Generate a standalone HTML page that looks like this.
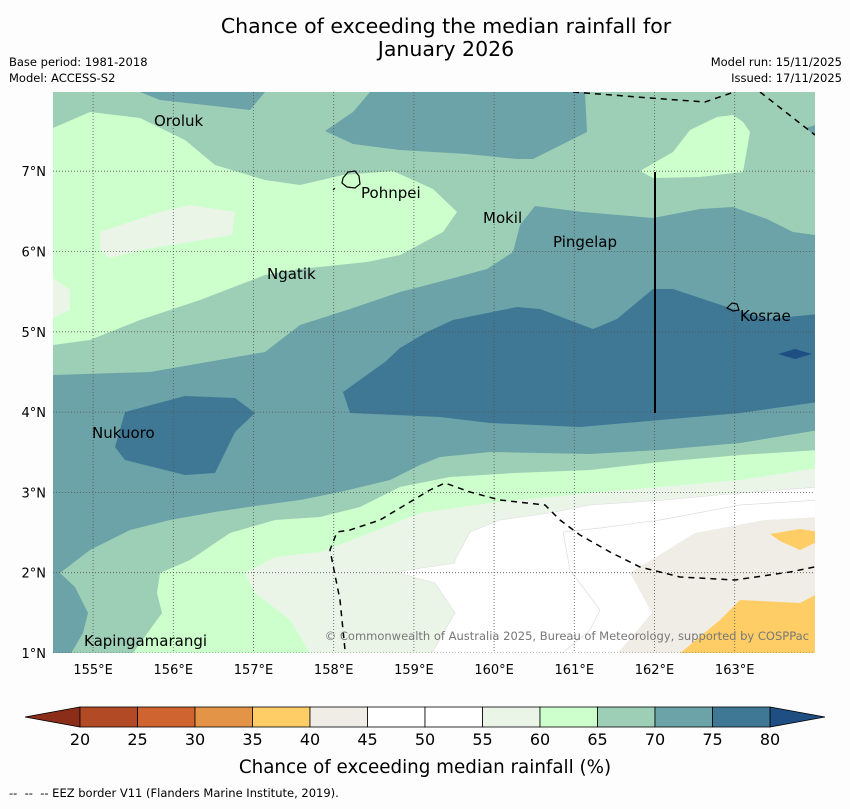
<!DOCTYPE html>
<html><head><meta charset="utf-8"><style>
body{margin:0;background:#fdfdfd;width:850px;height:804px;overflow:hidden;font-family:"Liberation Sans","DejaVu Sans",sans-serif}
</style></head><body>
<svg width="850" height="804" viewBox="0 0 850 804" style="font-family:'DejaVu Sans','Liberation Sans',sans-serif">
<rect width="850" height="804" fill="#fdfdfd"/>
<text x="446" y="33" font-size="20.5" text-anchor="middle">Chance of exceeding the median rainfall for</text>
<text x="446" y="56" font-size="20.5" text-anchor="middle">January 2026</text>
<text x="9" y="66" font-size="11.5">Base period: 1981-2018</text>
<text x="9" y="82" font-size="11.5">Model: ACCESS-S2</text>
<text x="842" y="66" font-size="11.5" text-anchor="end">Model run: 15/11/2025</text>
<text x="842" y="82" font-size="11.5" text-anchor="end">Issued: 17/11/2025</text>
<defs><clipPath id="mc"><rect x="53" y="92" width="762" height="561"/></clipPath></defs>
<g clip-path="url(#mc)">
<rect x="53" y="92" width="762" height="561" fill="#6ba3a8"/>
<polygon fill="#9dcfb6" points="53,92 815,92 815,235 793,232 767,219 733,207 700,209 653,218 583,212 535,206 520,225 513,252 487,269 450,279 400,292 350,309 300,325 265,352 150,372 53,375"/>
<polygon fill="#6ba3a8" points="370,92 353,112 325,131 353,144 400,150 467,154 517,159 533,159 587,132 585,92"/>
<polygon fill="#6ba3a8" points="140,92 265,92 250,110 160,100"/>
<polygon fill="#6ba3a8" points="806,128 815,125 815,136"/>
<polygon fill="#ccffcc" points="53,128 90,112 140,118 185,140 215,165 265,180 300,185 343,175 393,171 433,189 457,212 443,232 400,255 367,262 300,269 265,275 200,300 140,320 90,340 53,345"/>
<polygon fill="#eaf5e8" points="100,232 160,212 190,205 235,212 232,235 190,242 140,250 110,258 100,250"/>
<polygon fill="#eaf5e8" points="53,278 70,290 70,310 53,318"/>
<polygon fill="#ccffcc" points="640,171 673,152 690,130 717,117 733,115 743,122 750,132 743,172 700,177 653,178"/>
<polygon fill="#9dcfb6" points="53,580 60,573 90,550 130,530 170,520 215,512 255,506 300,500 340,492 390,480 420,465 440,457 490,452 540,453 590,454 660,450 740,443 819,430 819,660 53,660"/>
<polygon fill="#6ba3a8" points="53,575 60,573 75,587 88,613 83,633 70,655 53,655"/>
<polygon fill="#ccffcc" points="160,573 190,560 230,533 275,520 320,517 360,507 400,487 450,477 515,473 590,470 660,462 740,455 819,450 819,660 128,660 162,613 157,593"/>
<polygon fill="#eaf5e8" points="245,573 275,557 320,552 360,537 420,513 490,503 540,498 590,493 660,487 740,480 805,470 819,468 819,660 314,660 290,620 255,593"/>
<polygon fill="#ffffff" stroke="#ddd" stroke-width="0.6" points="470,532 500,520 550,513 590,505 665,500 740,493 819,487 819,660 428,660 455,613 435,583 395,572 455,563 455,560"/>
<path d="M563,532 L600,528 L660,520 L740,505 L819,500 M563,532 L570,570 L600,610 L590,630 L560,655" fill="none" stroke="#ddd" stroke-width="0.7"/>
<polygon fill="#f0ede6" points="819,517 765,520 695,533 630,573 652,613 612,660 819,660"/>
<polygon fill="#fecd65" points="672,660 720,620 740,600 800,603 819,593 819,660"/>
<polygon fill="#fecd65" points="770,534 800,529 819,532 819,541 800,550 780,541"/>
<polygon fill="#3e7895" points="125,412 185,396 235,398 255,413 235,432 215,473 185,475 125,460 115,447"/>
<polygon fill="#3e7895" points="343,392 385,362 400,348 427,332 453,320 517,307 540,309 593,329 617,319 653,289 673,289 733,309 767,319 819,314 819,402 740,413 660,420 580,427 490,423 440,417 350,413"/>
<polygon fill="#1f4f82" points="778,354 795,349 812,354 795,359"/>
<g stroke="#555" stroke-width="0.8" stroke-dasharray="1,2" id="grid"></g>
<path d="M346,660 L340,600 L330,550 L337,532 L350,530 L380,520 L405,505 L430,490 L445,483 L470,492 L500,500 L545,505 L560,520 L580,535 L610,552 L640,567 L680,577 L735,580 L790,572 L819,566" fill="none" stroke="#000" stroke-width="1.5" stroke-dasharray="6,5"/>
<path d="M573,92 L650,98 L705,102 L740,90 M760,92 L815,135" fill="none" stroke="#000" stroke-width="1.5" stroke-dasharray="6,5"/>
<line x1="655" y1="172" x2="655" y2="413" stroke="#000" stroke-width="2"/>
<path d="M343,178 L348,172 L355,171 L359,176 L360,184 L355,188 L347,187 L342,183 Z M333,190 l2,-2" fill="none" stroke="#000" stroke-width="1.2"/>
<path d="M727,308 L732,303 L737,304 L739,310 L733,311 Z" fill="none" stroke="#000" stroke-width="1.2"/>
</g>
<g font-size="15" fill="#000">
<text x="154" y="126">Oroluk</text>
<text x="361" y="198">Pohnpei</text>
<text x="483" y="223">Mokil</text>
<text x="553" y="247">Pingelap</text>
<text x="267" y="279">Ngatik</text>
<text x="740" y="321">Kosrae</text>
<text x="92" y="438">Nukuoro</text>
<text x="84" y="646">Kapingamarangi</text>
</g>
<text x="809" y="640" font-size="11.5" fill="#777" text-anchor="end">© Commonwealth of Australia 2025, Bureau of Meteorology, supported by COSPPac</text>
<g id="axes" font-size="13"></g>
<g id="cbar"></g>
<text x="425" y="773" font-size="18.3" text-anchor="middle">Chance of exceeding median rainfall (%)</text>
<text x="9" y="797" font-size="11.5" xml:space="preserve">--  --  -- EEZ border V11 (Flanders Marine Institute, 2019).</text>
</svg>
<script>
const lonTicks=[155,156,157,158,159,160,161,162,163];
const latTicks=[1,2,3,4,5,6,7];
const cbLevels=[20,25,30,35,40,45,50,55,60,65,70,75,80];
const cbColors=["#b34a26","#d06430","#e39446","#fecd65","#f0ede6","#ffffff","#ffffff","#eaf5e8","#ccffcc","#9dcfb6","#6ba3a8","#3e7895"];
const NS="http://www.w3.org/2000/svg";
const lonX=l=>53+(l-154.5)*80.2;
const latY=l=>653-(l-1)*80.3;
const grid=document.getElementById('grid'),axes=document.getElementById('axes'),cb=document.getElementById('cbar');
function mk(t,a,p){const e=document.createElementNS(NS,t);for(const k in a)e.setAttribute(k,a[k]);p.appendChild(e);return e;}
lonTicks.forEach(l=>{
 const g=mk('line',{x1:lonX(l),x2:lonX(l),y1:92,y2:653},grid);
 
 
 const t=mk('text',{x:lonX(l),y:674,'text-anchor':'middle'},axes);t.textContent=l+'°E';
 
 
});
latTicks.forEach(l=>{
 const g=mk('line',{x1:53,x2:815,y1:latY(l),y2:latY(l)},grid);
 
 
 const t=mk('text',{x:46,y:latY(l)+5,'text-anchor':'end'},axes);t.textContent=l+'°N';
 
 
});
const cbX=v=>80+(v-20)*11.5;
const y0=707,h=20;
const lo=mk('polygon',{points:`25,${y0+h/2} ${cbX(20)},${y0} ${cbX(20)},${y0+h}`,fill:'#8c2d1a',stroke:'#000','stroke-width':0.8},cb);


const hi=mk('polygon',{points:`825,${y0+h/2} ${cbX(80)},${y0} ${cbX(80)},${y0+h}`,fill:'#1f4f82',stroke:'#000','stroke-width':0.8},cb);


cbColors.forEach((c,i)=>{
 const r=mk('rect',{x:cbX(cbLevels[i]),y:y0,width:cbX(cbLevels[i+1])-cbX(cbLevels[i]),height:h,fill:c,stroke:'#000','stroke-width':0.8},cb);
 
 
});
cbLevels.forEach(v=>{
 const t=mk('text',{x:cbX(v),y:745,'text-anchor':'middle','font-size':16},cb);t.textContent=v;
 
 
});
</script>
</body></html>
